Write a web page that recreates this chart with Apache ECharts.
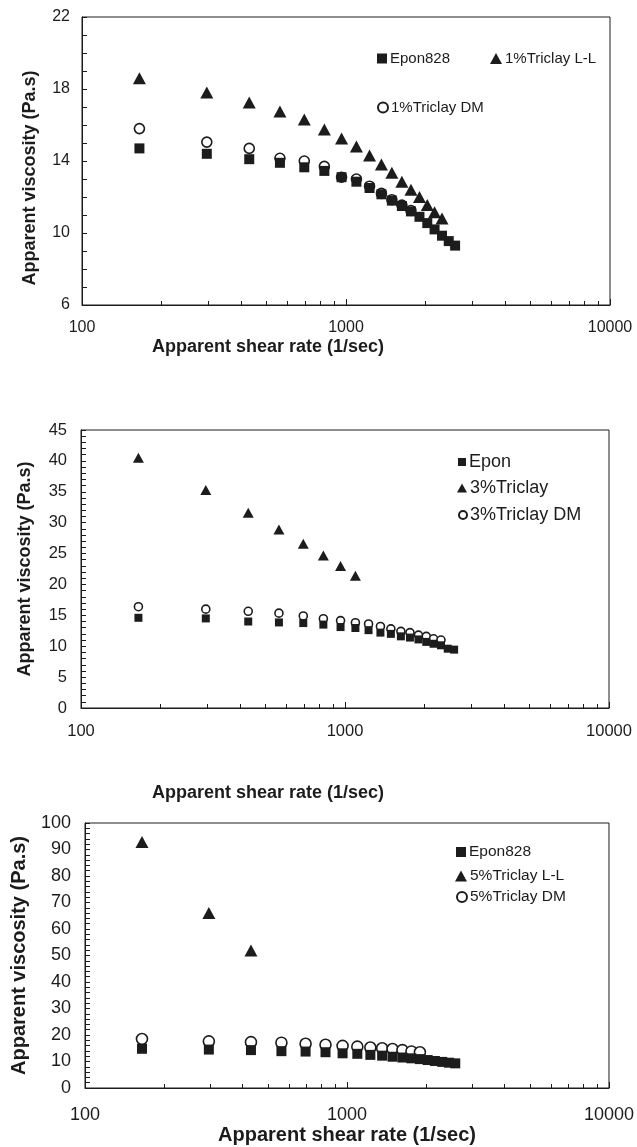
<!DOCTYPE html>
<html>
<head>
<meta charset="utf-8">
<script src="https://cdn.jsdelivr.net/npm/echarts@6/dist/echarts.min.js"></script>
<style>
html,body{margin:0;padding:0;background:#fff;}
#chart{width:637px;height:1147px;}
</style>
</head>
<body>
<div id="chart"></div>
<script>
// Shear rates (1/sec)
const rates = [165, 297, 430, 562, 695, 828, 962, 1095, 1228, 1362, 1492, 1628, 1762, 1898, 2032, 2165, 2310, 2450, 2590];
const xTickLabels = [100, 1000, 10000];
const xMinorTicks = [200, 300, 400, 500, 600, 700, 800, 900, 2000, 3000, 4000, 5000, 6000, 7000, 8000, 9000];

// Panel 1
const p1Names = ['Epon828', '1%Triclay L-L', '1%Triclay DM'];
const p1Epon = [14.7, 14.4, 14.1, 13.9, 13.65, 13.45, 13.1, 12.85, 12.5, 12.15, 11.8, 11.5, 11.2, 10.9, 10.55, 10.2, 9.85, 9.55, 9.3];
const p1LL = [18.6, 17.8, 17.25, 16.75, 16.3, 15.75, 15.25, 14.8, 14.3, 13.8, 13.35, 12.85, 12.4, 12.0, 11.55, 11.15, 10.8];
const p1DM = [15.8, 15.05, 14.7, 14.15, 14.0, 13.7, 13.1, 13.0, 12.6, 12.2, 11.85, 11.55, 11.25];

// Panel 2
const p2Names = ['Epon', '3%Triclay', '3%Triclay DM'];
const p2Epon = [14.6, 14.5, 14.0, 13.85, 13.75, 13.5, 13.1, 12.95, 12.6, 12.2, 12.0, 11.6, 11.4, 11.1, 10.7, 10.4, 10.15, 9.6, 9.45];
const p2LL = [40.5, 35.3, 31.6, 28.9, 26.6, 24.7, 23.0, 21.4];
const p2DM = [16.4, 16.0, 15.65, 15.35, 14.9, 14.45, 14.15, 13.8, 13.6, 13.2, 12.8, 12.4, 12.2, 11.8, 11.6, 11.2, 11.0];

// Panel 3
const p3Names = ['Epon828', '5%Triclay L-L', '5%Triclay DM'];
const p3Epon = [14.8, 14.5, 14.3, 13.9, 13.75, 13.5, 13.1, 12.9, 12.5, 12.2, 11.8, 11.5, 11.2, 10.9, 10.55, 10.2, 9.85, 9.55, 9.3];
const p3LL = [92.8, 66.0, 51.9];
const p3DM = [18.5, 17.6, 17.3, 17.1, 16.7, 16.3, 15.9, 15.6, 15.3, 15.0, 14.7, 14.3, 13.8, 13.5];

const xTitle = 'Apparent shear rate (1/sec)';
const yTitle = 'Apparent viscosity (Pa.s)';

const INK = '#1c1c1c';
const FONT = "'Liberation Sans', Arial, sans-serif";

function pairs(vals) { return vals.map((v, i) => [rates[i], v]); }

const panels = [
  { grid: {left: 82, top: 17, width: 528, height: 288},
    y: {min: 6, max: 22, interval: 2, minorSplit: 2, labelStep: 4},
    tickFont: 16, titleFont: 18, xLabelMargin: 15, xNameGap: 33, xNamePad: [0, 156, 0, 0],
    yNameGap: 43, yLabelMargin: 12, yNamePad: [0, 34, 0, 0],
    names: p1Names, epon: p1Epon, ll: p1LL, dm: p1DM,
    sq: 10, tri: [13, 12], circ: 10,
    legendFont: 15,
    legendPos: [{left: 377, top: 51}, {left: 490, top: 51}, {left: 377, top: 100}] },
  { grid: {left: 81, top: 430, width: 528, height: 278},
    y: {min: 0, max: 45, interval: 5, minorSplit: 5, labelStep: 5},
    tickFont: 16.5, titleFont: 18, xLabelMargin: 15, xNameGap: 76, xNamePad: [0, 154, 0, 0],
    yNameGap: 47, yLabelMargin: 14, yNamePad: [0, 0, 0, 0],
    names: p2Names, epon: p2Epon, ll: p2LL, dm: p2DM,
    sq: 8, tri: [11, 10], circ: 8,
    legendFont: 18,
    legendPos: [{left: 458, top: 453}, {left: 457, top: 479}, {left: 458, top: 506}] },
  { grid: {left: 85, top: 823, width: 524, height: 265},
    y: {min: 0, max: 100, interval: 10, minorSplit: 5, labelStep: 10},
    tickFont: 18, titleFont: 20, xLabelMargin: 18, xNameGap: 37, xNamePad: [0, 0, 0, 0],
    yNameGap: 56, yLabelMargin: 14, yNamePad: [0, 0, 0, 0],
    names: p3Names, epon: p3Epon, ll: p3LL, dm: p3DM,
    sq: 10, tri: [13, 12], circ: 11,
    legendFont: 15.5,
    legendPos: [{left: 456, top: 844}, {left: 455, top: 868}, {left: 456, top: 889}] }
];

const option = {
  backgroundColor: '#fff',
  animation: false,
  grid: [], xAxis: [], yAxis: [], series: [], legend: []
};

panels.forEach((p, k) => {
  option.grid.push(Object.assign({show: true, borderColor: INK, borderWidth: 1, containLabel: false}, p.grid));
  option.xAxis.push({
    type: 'log', logBase: 10, min: 100, max: 10000, gridIndex: k,
    name: xTitle, nameLocation: 'middle', nameGap: p.xNameGap,
    nameTextStyle: {fontFamily: FONT, fontWeight: 'bold', fontSize: p.titleFont, color: INK, padding: p.xNamePad},
    axisLine: {show: true, lineStyle: {color: INK, width: 1}},
    axisTick: {show: true, inside: true, length: 6, lineStyle: {color: INK}},
    axisLabel: {margin: p.xLabelMargin, fontFamily: FONT, fontSize: p.tickFont, color: INK,
      formatter: v => String(Math.round(v))},
    splitLine: {show: false}
  });
  option.xAxis.push({
    type: 'log', logBase: 10, min: 100, max: 10000, gridIndex: k, position: 'bottom',
    axisLine: {show: false},
    axisTick: {show: true, inside: true, length: 4, lineStyle: {color: INK}, customValues: xMinorTicks},
    axisLabel: {show: false},
    splitLine: {show: false}
  });
  const step = p.y.labelStep, y0 = p.y.min;
  option.yAxis.push({
    type: 'value', gridIndex: k, min: p.y.min, max: p.y.max, interval: p.y.interval,
    name: yTitle, nameLocation: 'middle', nameGap: p.yNameGap, nameRotate: 90,
    nameTextStyle: {fontFamily: FONT, fontWeight: 'bold', fontSize: p.titleFont, color: INK, padding: p.yNamePad},
    axisLine: {show: true, lineStyle: {color: INK, width: 1}},
    axisTick: {show: true, inside: true, length: 5, lineStyle: {color: INK}},
    minorTick: {show: true, splitNumber: p.y.minorSplit, length: 5, lineStyle: {color: INK}},
    axisLabel: {margin: p.yLabelMargin, fontFamily: FONT, fontSize: p.tickFont, color: INK,
      formatter: v => ((Math.round(v - y0) % step) === 0 ? String(Math.round(v)) : '')},
    splitLine: {show: false}, minorSplitLine: {show: false}
  });
  const xi = 2 * k;
  option.series.push({
    type: 'scatter', name: p.names[2], xAxisIndex: xi, yAxisIndex: k, data: pairs(p.dm),
    symbol: 'circle', symbolSize: p.circ,
    itemStyle: {color: '#fff', borderColor: INK, borderWidth: 1.6, opacity: 1}, z: 2
  });
  option.series.push({
    type: 'scatter', name: p.names[0], xAxisIndex: xi, yAxisIndex: k, data: pairs(p.epon),
    symbol: 'rect', symbolSize: p.sq,
    itemStyle: {color: INK, opacity: 1}, z: 3
  });
  option.series.push({
    type: 'scatter', name: p.names[1], xAxisIndex: xi, yAxisIndex: k, data: pairs(p.ll),
    symbol: 'triangle', symbolSize: p.tri,
    itemStyle: {color: INK, opacity: 1}, z: 4
  });
  const icons = ['rect', 'triangle', 'circle'];
  p.names.forEach((nm, j) => {
    option.legend.push(Object.assign({
      data: [{name: nm, icon: icons[j]}],
      orient: 'horizontal', padding: 0, itemGap: 0,
      itemWidth: j === 1 ? p.tri[0] - 1 : p.sq, itemHeight: j === 1 ? p.tri[1] - 1 : p.sq,
      textStyle: {fontFamily: FONT, fontSize: p.legendFont, color: INK, padding: [0, 0, 0, -2]},
      selectedMode: false
    }, p.legendPos[j]));
  });
});

const chart = echarts.init(document.getElementById('chart'), null, {renderer: 'canvas'});
chart.setOption(option);
</script>
</body>
</html>
